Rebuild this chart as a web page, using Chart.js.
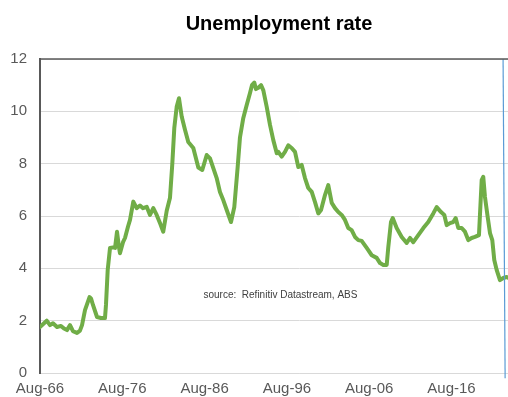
<!DOCTYPE html>
<html>
<head>
<meta charset="utf-8">
<script src="https://cdn.jsdelivr.net/npm/chart.js@4/dist/chart.umd.min.js"></script>
<style>
  html, body { margin: 0; padding: 0; background: #fff; overflow: hidden; width: 508px; height: 397px; }
  #wrap { width: 600px; height: 397px; }
</style>
</head>
<body>
<div id="wrap"><canvas id="c" width="600" height="397"></canvas></div>
<script>
// Dates as decimal years, and unemployment rate (%)
const dates = [
  1966.58, 1967.40, 1967.80, 1968.16, 1968.65, 1969.13, 1969.50, 1969.86, 1970.23, 1970.59,
  1971.08, 1971.44, 1971.69, 1972.05, 1972.60, 1972.78, 1973.02, 1973.51, 1973.99, 1974.48,
  1974.60, 1974.81, 1975.09, 1975.45, 1975.70, 1975.94, 1976.18, 1976.30, 1976.67, 1976.91,
  1977.28, 1977.52, 1977.92, 1978.33, 1978.73, 1979.10, 1979.55, 1979.95, 1980.35, 1980.76,
  1981.16, 1981.56, 1981.98, 1982.38, 1982.66, 1982.90, 1983.19, 1983.47, 1983.80, 1984.20,
  1984.60, 1985.21, 1985.82, 1986.30, 1986.84, 1987.24, 1987.64, 1988.05, 1988.45, 1988.86,
  1989.27, 1989.79, 1990.19, 1990.60, 1990.88, 1991.28, 1991.70, 1992.10, 1992.34, 1992.62,
  1992.82, 1993.11, 1993.44, 1993.72, 1994.13, 1994.53, 1994.93, 1995.35, 1995.54, 1995.95,
  1996.35, 1996.75, 1997.16, 1997.57, 1997.97, 1998.38, 1998.78, 1999.18, 1999.60, 2000.00,
  2000.40, 2000.73, 2001.21, 2001.61, 2002.03, 2002.43, 2002.83, 2003.24, 2003.64, 2004.04,
  2004.45, 2004.86, 2005.26, 2005.67, 2006.28, 2006.89, 2007.49, 2007.90, 2008.30, 2008.71,
  2008.90, 2009.23, 2009.44, 2009.92, 2010.53, 2011.14, 2011.54, 2011.94, 2012.55, 2013.16,
  2013.76, 2014.37, 2014.78, 2015.31, 2015.71, 2016.00, 2016.40, 2016.80, 2017.09, 2017.41,
  2017.82, 2018.22, 2018.62, 2019.03, 2019.43, 2019.92, 2020.25, 2020.44, 2020.65, 2020.98,
  2021.26, 2021.54, 2021.78, 2022.07, 2022.47, 2022.87, 2023.29, 2023.70
];
const rates = [
  1.76, 2.00, 1.83, 1.90, 1.76, 1.80, 1.70, 1.64, 1.83, 1.60,
  1.53, 1.62, 1.83, 2.40, 2.90, 2.85, 2.60, 2.14, 2.10, 2.10,
  2.60, 3.94, 4.78, 4.80, 4.78, 5.40, 4.80, 4.58, 5.00, 5.16,
  5.60, 5.85, 6.55, 6.30, 6.40, 6.30, 6.35, 6.04, 6.30, 6.04,
  5.73, 5.40, 6.20, 6.70, 8.00, 9.36, 10.17, 10.50, 9.80, 9.30,
  8.83, 8.60, 7.85, 7.76, 8.33, 8.20, 7.83, 7.45, 6.92, 6.60,
  6.23, 5.77, 6.34, 7.87, 9.00, 9.74, 10.24, 10.70, 11.00, 11.10,
  10.85, 10.90, 11.00, 10.80, 10.17, 9.48, 8.90, 8.40, 8.45, 8.27,
  8.45, 8.70, 8.60, 8.45, 7.87, 7.95, 7.45, 7.07, 6.92, 6.53,
  6.10, 6.23, 6.80, 7.18, 6.50, 6.30, 6.15, 6.04, 5.85, 5.54,
  5.46, 5.20, 5.08, 5.05, 4.78, 4.50, 4.40, 4.20, 4.13, 4.13,
  4.80, 5.77, 5.92, 5.54, 5.20, 4.97, 5.16, 5.00, 5.27, 5.54,
  5.77, 6.10, 6.34, 6.15, 6.04, 5.65, 5.73, 5.77, 5.92, 5.54,
  5.54, 5.40, 5.08, 5.16, 5.20, 5.27, 7.37, 7.50, 6.73, 5.96,
  5.35, 5.08, 4.32, 3.94, 3.55, 3.63, 3.67, 3.60
];
// Vertical marker line (blue)
const markerDates = [2022.85, 2023.10];
const markerValues = [12, -0.2];

const tickDates = [1966.583, 1976.583, 1986.583, 1996.583, 2006.583, 2016.583];
const tickLabels = ['Aug-66', 'Aug-76', 'Aug-86', 'Aug-96', 'Aug-06', 'Aug-16'];
const yTicks = [0, 2, 4, 6, 8, 10, 12];

const titleText = 'Unemployment rate';
const sourceText = 'source:  Refinitiv Datastream, ABS';

const FONT = "'Liberation Sans', Arial, sans-serif";

const extras = {
  id: 'extras',
  afterDraw(chart) {
    const { ctx, chartArea, scales } = chart;
    ctx.save();
    // top border of plot area
    ctx.strokeStyle = '#595959';
    ctx.lineWidth = 1.5;
    ctx.beginPath();
    ctx.moveTo(chartArea.left, chartArea.top);
    ctx.lineTo(chartArea.right, chartArea.top);
    ctx.stroke();
    // source note
    ctx.fillStyle = '#404040';
    ctx.font = '10px ' + FONT;
    ctx.textAlign = 'center';
    ctx.textBaseline = 'middle';
    ctx.fillText(sourceText, scales.x.getPixelForValue(1995.8), scales.y.getPixelForValue(2.98));
    ctx.restore();
  }
};

new Chart(document.getElementById('c'), {
  type: 'line',
  data: {
    datasets: [
      {
        data: markerDates.map((d, i) => ({ x: d, y: markerValues[i] })),
        borderColor: '#5B9BD5',
        borderWidth: 1.2,
        pointRadius: 0,
        clip: false,
        order: 0
      },
      {
        data: dates.map((d, i) => ({ x: d, y: rates[i] })),
        borderColor: '#70AD47',
        borderWidth: 4,
        pointRadius: 0,
        tension: 0,
        borderJoinStyle: 'round',
        borderCapStyle: 'round',
        order: 1
      }
    ]
  },
  options: {
    responsive: false,
    animation: false,
    events: [],
    layout: { padding: { left: 0, right: 42, top: 0, bottom: 0 } },
    plugins: {
      legend: { display: false },
      tooltip: { enabled: false },
      title: {
        display: true,
        text: titleText,
        color: '#000',
        font: { family: FONT, size: 20, weight: 'bold' },
        padding: { top: 12, bottom: 23 }
      }
    },
    scales: {
      x: {
        type: 'linear',
        min: 1966.583,
        max: 1966.583 + 518 / 8.23,
        afterBuildTicks: s => { s.ticks = tickDates.map(v => ({ value: v })); },
        afterFit: s => { s.height = 24; s.paddingLeft = 0; s.paddingRight = 0; },
        ticks: {
          autoSkip: false,
          maxRotation: 0,
          padding: 7,
          color: '#595959',
          font: { family: FONT, size: 15 },
          callback: v => { const i = tickDates.indexOf(v); return i >= 0 ? tickLabels[i] : ''; }
        },
        grid: { display: false, drawTicks: false },
        border: { display: true, color: '#D9D9D9', width: 1 }
      },
      y: {
        min: 0,
        max: 12,
        afterBuildTicks: s => { s.ticks = yTicks.map(v => ({ value: v })); },
        afterFit: s => { s.width = 40; },
        ticks: {
          padding: 13,
          color: '#595959',
          font: { family: FONT, size: 15 }
        },
        grid: { color: '#D9D9D9', lineWidth: 1, drawTicks: false },
        border: { display: true, color: '#595959', width: 2 }
      }
    }
  },
  plugins: [extras]
});
</script>
</body>
</html>
